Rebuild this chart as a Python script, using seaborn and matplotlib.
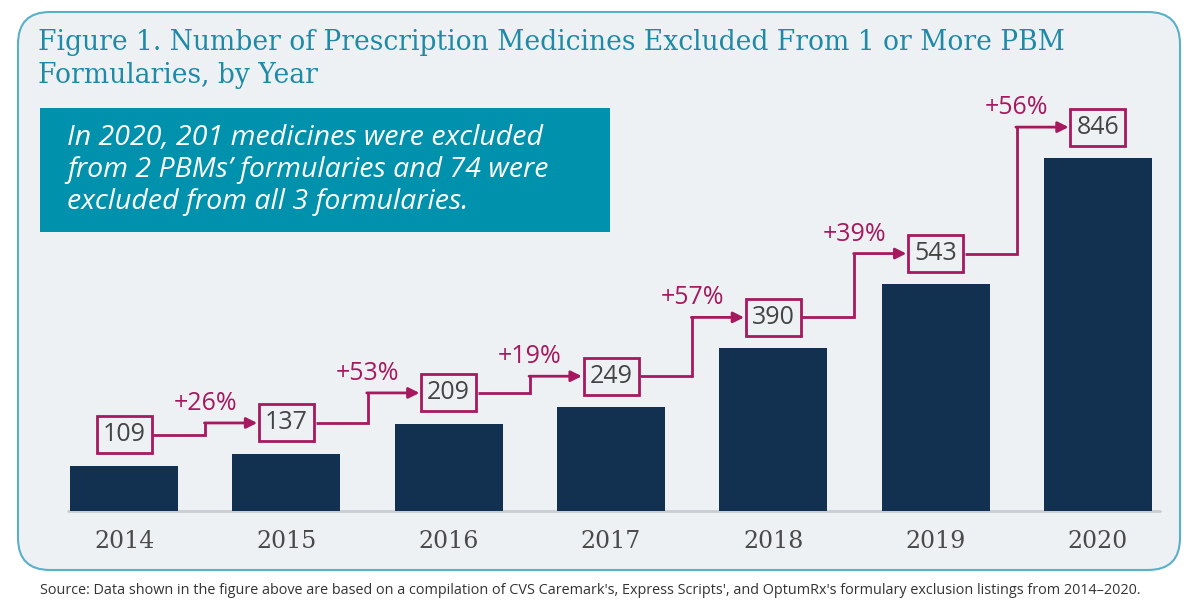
import numpy as np
import matplotlib
matplotlib.use("Agg")
import matplotlib.pyplot as plt
import seaborn as sns
from matplotlib.patches import FancyBboxPatch, Rectangle

years = ["2014", "2015", "2016", "2017", "2018", "2019", "2020"]
counts = [109, 137, 209, 249, 390, 543, 846]
pct_labels = ["+26%", "+53%", "+19%", "+57%", "+39%", "+56%"]

title = ("Figure 1. Number of Prescription Medicines Excluded From 1 or More PBM\n"
         "Formularies, by Year")
callout = ("In 2020, 201 medicines were excluded\n"
           "from 2 PBMs\u2019 formularies and 74 were\n"
           "excluded from all 3 formularies.")
source = ("Source: Data shown in the figure above are based on a compilation of CVS Caremark's, "
          "Express Scripts', and OptumRx's formulary exclusion listings from 2014\u20132020.")

navy = "#12304F"
teal = "#0091AD"
title_teal = "#1E8AA6"
border = "#5AB0C8"
panel = "#EEF1F3"
magenta = "#A6195E"

sns.set_theme(style="white")
plt.rcParams["font.family"] = ["Open Sans", "DejaVu Sans"]

fig = plt.figure(figsize=(12, 6.11), dpi=100)
fig.patch.set_facecolor("white")

# rounded panel behind everything (inch units so corners are round)
box = FancyBboxPatch((0.18, 0.41), 11.62, 5.58,
                     boxstyle="round,pad=0,rounding_size=0.32",
                     transform=fig.dpi_scale_trans, fc=panel, ec=border, lw=1.5,
                     zorder=-2)
fig.patches.append(box)

# teal callout box
fig.patches.append(Rectangle((40 / 1200, 1 - 232 / 611), 570 / 1200, 124 / 611,
                             transform=fig.transFigure, fc=teal, ec="none", zorder=-1))
fig.text(67 / 1200, 1 - 170 / 611, callout, color="white", fontsize=20.5,
         style="italic", va="center", ha="left", linespacing=1.18, zorder=2)

fig.text(38 / 1200, 1 - 59 / 611, title, color=title_teal, fontsize=19.1,
         family="DejaVu Serif", va="center", ha="left", linespacing=1.28)

fig.text(40 / 1200, 1 - 590 / 611, source, color="#333333", fontsize=10.4,
         va="center", ha="left")

ax = fig.add_axes([43 / 1200, 100 / 611, 1136 / 1200, 411 / 611])
ax.set_zorder(3)
ax.patch.set_visible(False)
sns.barplot(x=years, y=counts, color=navy, width=0.665, saturation=1, ax=ax,
            linewidth=0, zorder=2)
ax.set_xlim(-0.5, 6.5)
ax.set_ylim(0, 985)
sns.despine(ax=ax, left=True, bottom=True)
ax.set_yticks([])
ax.set_xlabel("")
ax.set_ylabel("")
ax.tick_params(axis="x", length=0, pad=14)
for t in ax.get_xticklabels():
    t.set_family("DejaVu Serif")
    t.set_fontsize(17)
    t.set_color("#4A4A4A")
ax.axhline(0, xmin=0.022, xmax=0.983, color="#C9CED3", lw=2, zorder=1, clip_on=False)

# value boxes and step arrows
lab_off = 74      # label centre above bar top, data units
hw = 0.18         # half width of label box, data units
lab_y = [v + lab_off for v in counts]
for i, v in enumerate(counts):
    ax.text(i, lab_y[i], str(v), ha="center", va="center", fontsize=18,
            color="#444444", zorder=4,
            bbox=dict(boxstyle="square,pad=0.24", fc="none", ec=magenta, lw=2))

for i, lab in enumerate(pct_labels):
    xm = i + 0.5
    ax.plot([i + hw, xm, xm], [lab_y[i], lab_y[i], lab_y[i + 1]],
            color=magenta, lw=2, solid_capstyle="butt", solid_joinstyle="miter", zorder=3)
    ax.annotate("", xy=(i + 1 - hw, lab_y[i + 1]), xytext=(xm - 0.005, lab_y[i + 1]),
                arrowprops=dict(arrowstyle="-|>", color=magenta, lw=2,
                                mutation_scale=16, shrinkA=0, shrinkB=0),
                zorder=3)
    ax.annotate(lab, xy=(xm, lab_y[i + 1]), xytext=(0, 14), textcoords="offset points",
                ha="center", va="center", fontsize=18, color=magenta, zorder=3)

fig.savefig("out.png", dpi=100, facecolor="white")
